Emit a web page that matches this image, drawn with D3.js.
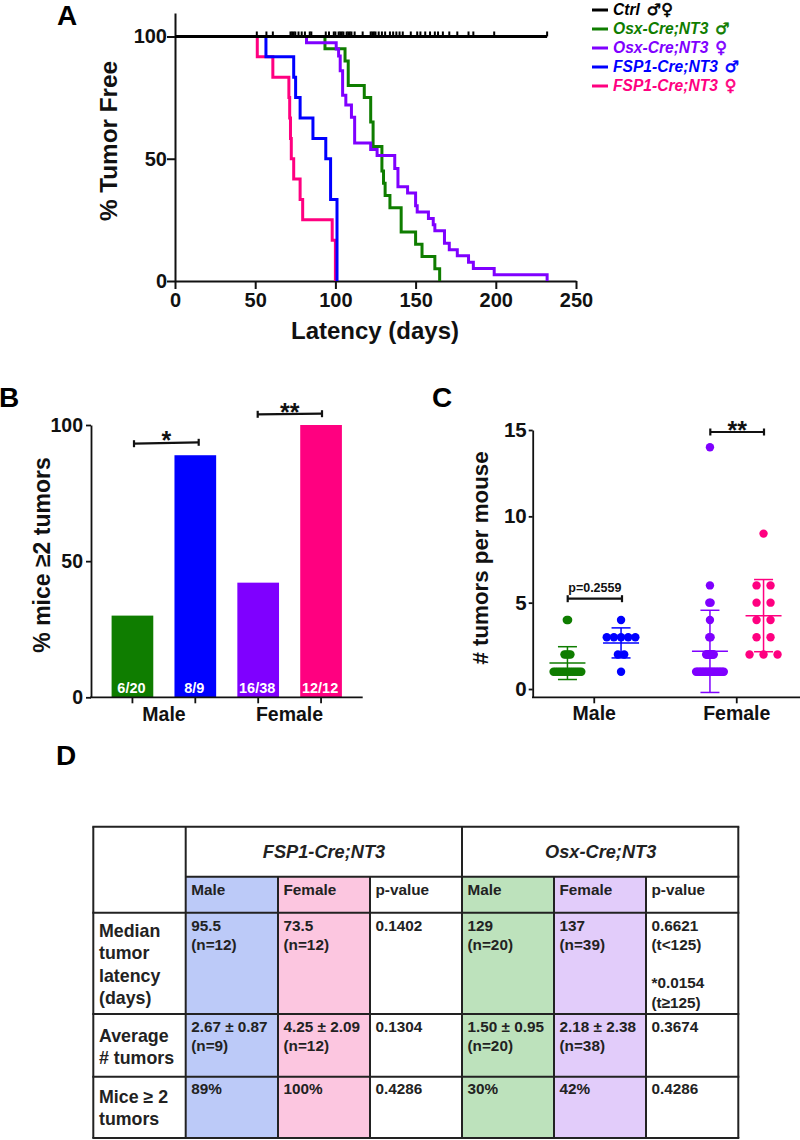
<!DOCTYPE html>
<html>
<head>
<meta charset="utf-8">
<script src="https://cdn.jsdelivr.net/npm/d3@7"></script>
<style>
  body { margin: 0; background: #fff; }
  svg { display: block; }
  text { font-family: "Liberation Sans", Arial, sans-serif; font-weight: bold; fill: #111; }
</style>
</head>
<body>
<div id="chart"></div>
<script>
// panel A - latency curves, [day, % tumor free]
const osxMale = [[0,100],[93.5,95],[106,90],[108,80],[118,75],[122,65],[123.5,55],[129,45],[130,40],[131,35],[134,30],[141,20],[150,15],[154,10],[162,5],[165,0]];
const osxFemale = [[0,100],[82,97.4],[100.5,94.9],[102,92],[103,86],[104.5,76],[106.5,72],[110,67],[112,56.4],[122,53.8],[126,51.3],[137,46],[139,38.5],[145,36],[150,30.8],[151,28.2],[158,25.6],[161,23],[162,20.5],[168,15.4],[171,12.8],[176,10.3],[183,7.7],[186,5.1],[199,2.6],[232,0]];
const fspMale = [[0,100],[56.7,91.7],[74,83.3],[75.2,75],[78,66.7],[86,58.3],[94,50],[97,33.3],[101,0]];
const fspFemale = [[0,100],[51.3,91.7],[61,83.3],[71,75],[71.5,66.7],[72,58.3],[72.5,50],[74,41.7],[78,33.3],[79.6,25],[98,16.7],[100,0]];
const ctrlLine = [[0,100],[232,100]];
const ctrlCensored = [51,57,61,72,73,74,75,77,79,81,84,85,94,96,99,100,102,103,104,105,107,108,109,110,112,117,122,123,124,125,127,129,131,134,136,138,140,142,147,151,153,156,159,162,164,167,171,176,183,186,199,232];

const legendNames = ["Ctrl", "Osx-Cre;NT3", "Osx-Cre;NT3", "FSP1-Cre;NT3", "FSP1-Cre;NT3"];
const legendSex = ["♂♀", "♂", "♀", "♂", "♀"];

// panel B
const barKeys = ["maleOsx", "maleFsp", "femaleOsx", "femaleFsp"];
const barValues = [30, 88.9, 42.1, 100];
const barLabels = ["6/20", "8/9", "16/38", "12/12"];
const sexLabels = ["Male", "Female"];

// panel C - one entry per mouse
const dotsOsxMale = [1,1,1,1,1,1,1,1,1,1,1,1,1,1,2,2,2,2,4,4];
const dotsFspMale = [1,2,2,3,3,3,3,3,4];
const dotsOsxFemale = [1,1,1,1,1,1,1,1,1,1,1,1,1,1,1,1,1,1,1,2,2,2,2,2,2,2,2,2,2,2,2,3,3,4,5,5,6,14];
const dotsFspFemale = [2,2,2,3,3,4,4,5,5,6,6,9];
const dotMeans = [1.5, 2.67, 2.18, 4.25];
const dotSds = [0.95, 0.87, 2.38, 2.09];

// panel D
const fspHead = "FSP1-Cre;NT3";
const osxHead = "Osx-Cre;NT3";
const subHead = ["Male", "Female", "p-value", "Male", "Female", "p-value"];
const rowNames = [["Median","tumor","latency","(days)"], ["Average","# tumors"], ["Mice ≥ 2","tumors"]];
const rowLatency = [["95.5","(n=12)"],["73.5","(n=12)"],["0.1402"],["129","(n=20)"],["137","(n=39)"],["0.6621","(t<125)","","*0.0154","(t≥125)"]];
const rowAverage = [["2.67 ± 0.87","(n=9)"],["4.25 ± 2.09","(n=12)"],["0.1304"],["1.50 ± 0.95","(n=20)"],["2.18 ± 2.38","(n=38)"],["0.3674"]];
const rowMice = [["89%"],["100%"],["0.4286"],["30%"],["42%"],["0.4286"]];

const green = "#0f7d00", purple = "#7f00ff", blue = "#0000ff", pink = "#ff0080";
const ink = "#111";

const svg = d3.select("#chart").append("svg").attr("width", 800).attr("height", 1140);

function panelLetter(t, x, y) {
  svg.append("text").attr("x", x).attr("y", y).style("font-size", "28px").style("fill", "#000").text(t);
}
panelLetter("A", 57, 25);
panelLetter("B", -1, 407);
panelLetter("C", 432, 407);
panelLetter("D", 56, 765);

function styleAxis(g, size, sw) {
  g.selectAll("path,line").attr("stroke", ink).attr("stroke-width", sw);
  g.selectAll("text").style("font-size", size + "px").style("font-family", '"Liberation Sans", Arial, sans-serif').style("font-weight", "bold").attr("fill", ink);
}

function yTitle(t, x, y, size) {
  svg.append("text").attr("transform", "translate(" + x + "," + y + ") rotate(-90)")
    .attr("text-anchor", "middle").style("font-size", size + "px").text(t);
}

// ---------- A
const xA = d3.scaleLinear().domain([0, 250]).range([175, 576]);
const yA = d3.scaleLinear().domain([0, 109.6]).range([281, 13]);

svg.append("g").attr("transform", "translate(0,281)")
  .call(d3.axisBottom(xA).tickValues([0,50,100,150,200,250]).tickSize(8).tickPadding(4).tickSizeOuter(0))
  .call(styleAxis, 20, 2);
svg.append("g").attr("transform", "translate(175,0)")
  .call(d3.axisLeft(yA).tickValues([0,50,100]).tickSize(8).tickPadding(0).tickSizeOuter(0))
  .call(styleAxis, 20, 2);

const stepLine = d3.line().x(d => xA(d[0])).y(d => yA(d[1])).curve(d3.curveStepAfter);
[[osxMale, green], [osxFemale, purple], [fspFemale, pink], [fspMale, blue], [ctrlLine, "#000"]].forEach(function(s) {
  svg.append("path").datum(s[0]).attr("d", stepLine).attr("fill", "none")
    .attr("stroke", s[1]).attr("stroke-width", 3);
});
svg.selectAll(".cens").data(ctrlCensored).enter().append("line").attr("class", "cens")
  .attr("x1", d => xA(d)).attr("x2", d => xA(d))
  .attr("y1", yA(100)).attr("y2", yA(100) - 5)
  .attr("stroke", "#000").attr("stroke-width", 2);

yTitle("% Tumor Free", 117, 141, 24.3);
svg.append("text").attr("x", 375).attr("y", 339).attr("text-anchor", "middle")
  .style("font-size", "24px").text("Latency (days)");

// legend
const legendColors = ["#000", green, purple, blue, pink];
legendNames.forEach(function(name, i) {
  const y = 10 + i * 19;
  svg.append("line").attr("x1", 592).attr("x2", 608).attr("y1", y).attr("y2", y)
    .attr("stroke", legendColors[i]).attr("stroke-width", 3);
  const t = svg.append("text").attr("x", 613).attr("y", y + 5).style("fill", legendColors[i]).style("font-size", "15.6px");
  t.append("tspan").style("font-style", "italic").text(name);
  t.append("tspan").attr("dx", 7).style("font-family", '"DejaVu Sans"').style("font-size", "16px")
    .style("stroke", legendColors[i]).style("stroke-width", 0.6).text(legendSex[i]);
});

// ---------- B
const xB = d3.scaleBand().domain(barKeys).range([101, 352.5]).paddingInner(0.337).paddingOuter(0.1685);
const yB = d3.scaleLinear().domain([0, 100]).range([697.3, 425]);
const barColor = d3.scaleOrdinal().domain(barKeys).range([green, blue, purple, pink]);

svg.selectAll(".bar").data(barKeys).enter().append("rect").attr("class", "bar")
  .attr("x", d => xB(d)).attr("width", xB.bandwidth())
  .attr("y", (d, i) => yB(barValues[i]))
  .attr("height", (d, i) => yB(0) - yB(barValues[i]))
  .attr("fill", d => barColor(d));
svg.selectAll(".barlab").data(barKeys).enter().append("text").attr("class", "barlab")
  .attr("x", d => xB(d) + xB.bandwidth() / 2 - 1).attr("y", 692.7)
  .attr("text-anchor", "middle").style("fill", "#fff").style("font-size", "14.5px")
  .text((d, i) => barLabels[i]);

const axB = svg.append("g").attr("transform", "translate(0,697.3)")
  .call(d3.axisBottom(xB).tickFormat("").tickSize(6).tickSizeOuter(0));
axB.select(".domain").remove();
axB.call(styleAxis, 19, 1.8);
svg.append("line").attr("x1", 90).attr("x2", 362.7).attr("y1", 697.3).attr("y2", 697.3).attr("stroke", ink).attr("stroke-width", 1.8);
svg.append("g").attr("transform", "translate(91,0)")
  .call(d3.axisLeft(yB).tickValues([0,50,100]).tickSize(5).tickPadding(3).tickSizeOuter(0))
  .call(styleAxis, 19.5, 1.8);

sexLabels.forEach(function(s, i) {
  svg.append("text").attr("x", [164, 289.5][i]).attr("y", 720.7).attr("text-anchor", "middle")
    .style("font-size", "19.5px").text(s);
});
yTitle("% mice ≥2 tumors", 49.5, 555, 23);

function bracket(x1, x2, y1, y2, label, ly, size) {
  const g = svg.append("g").attr("stroke", ink).attr("stroke-width", 2.2);
  g.append("line").attr("x1", x1).attr("x2", x2).attr("y1", y1).attr("y2", y2);
  g.append("line").attr("x1", x1).attr("x2", x1).attr("y1", y1 - 3.5).attr("y2", y1 + 3.5);
  g.append("line").attr("x1", x2).attr("x2", x2).attr("y1", y2 - 3.5).attr("y2", y2 + 3.5);
  svg.append("text").attr("x", (x1 + x2) / 2).attr("y", ly).attr("text-anchor", "middle")
    .style("font-size", size + "px").text(label);
}
bracket(134, 198.7, 443.7, 442.3, "*", 449, 25);
bracket(257.7, 322, 414.3, 413.7, "**", 421, 25);

// ---------- C
const xC = d3.scaleBand().domain(sexLabels).range([523, 808]);
const subC = d3.scalePoint().domain([0, 1]).range([-26.8, 26.8]);
const yC = d3.scaleLinear().domain([-0.48, 15]).range([697.3, 430]);

const axC = svg.append("g").attr("transform", "translate(0,697.3)")
  .call(d3.axisBottom(xC).tickSize(6).tickPadding(3).tickSizeOuter(0));
axC.select(".domain").remove();
axC.call(styleAxis, 19.5, 1.8);
svg.append("line").attr("x1", 532).attr("x2", 800).attr("y1", 697.3).attr("y2", 697.3).attr("stroke", ink).attr("stroke-width", 1.8);
svg.append("g").attr("transform", "translate(532.7,0)")
  .call(d3.axisLeft(yC).tickValues([0,5,10,15]).tickSize(4).tickPadding(2).tickSizeOuter(0))
  .call(styleAxis, 20.5, 1.8);
yTitle("# tumors per mouse", 488, 558, 22.3);

// horizontal spread of each row of dots, by value
const rowSpread = [
  {1: 27.7, 2: 6, 4: 1.3},
  {2: 6.3, 3: 28.6},
  {1: 27.7, 2: 7.6, 3: 1.3, 5: 1.3},
  {2: 28, 3: 14, 4: 14, 5: 14, 6: 14}
];
const dotGroups = [
  {sex: "Male", side: 0, values: dotsOsxMale, color: green},
  {sex: "Male", side: 1, values: dotsFspMale, color: blue},
  {sex: "Female", side: 0, values: dotsOsxFemale, color: purple},
  {sex: "Female", side: 1, values: dotsFspFemale, color: pink}
];
dotGroups.forEach(function(grp, gi) {
  const cx = xC(grp.sex) + xC.bandwidth() / 2 + subC(grp.side);
  const rows = d3.group(grp.values, d => d);
  rows.forEach(function(vals, v) {
    const n = vals.length;
    const span = rowSpread[gi][v] || 0;
    svg.append("g").selectAll("circle").data(vals).enter().append("circle")
      .attr("cx", (d, i) => n > 1 ? cx + span * (i / (n - 1) - 0.5) : cx)
      .attr("cy", yC(v)).attr("r", 4.2).attr("fill", grp.color);
  });
  const m = dotMeans[gi], sd = dotSds[gi];
  const g = svg.append("g").attr("stroke", grp.color).attr("stroke-width", 1.5);
  g.append("line").attr("x1", cx).attr("x2", cx).attr("y1", yC(m - sd)).attr("y2", yC(m + sd));
  g.append("line").attr("x1", cx - 18).attr("x2", cx + 18).attr("y1", yC(m)).attr("y2", yC(m));
  [m - sd, m + sd].forEach(function(c) {
    g.append("line").attr("x1", cx - 9.5).attr("x2", cx + 9.5).attr("y1", yC(c)).attr("y2", yC(c));
  });
});
bracket(567.7, 622, 598.7, 598.7, "p=0.2559", 591.7, 12.5);
bracket(710.3, 764, 432, 432, "**", 439, 25);

// ---------- D
const colEdges = [93.3, 185.7, 278, 370, 462, 554, 646, 738.3];
const rowEdges = [826.7, 876.7, 912.7, 1014, 1076.7, 1138];
const tableInk = "#222";
const cellFill = ["#bccaf8", "#fcc6e0", "#fff", "#bde2bc", "#e2ccfa", "#fff"];
const tableRows = [rowLatency, rowAverage, rowMice];

cellFill.forEach(function(c, i) {
  svg.append("rect").attr("x", colEdges[i + 1]).attr("y", rowEdges[1])
    .attr("width", colEdges[i + 2] - colEdges[i + 1]).attr("height", rowEdges[5] - rowEdges[1]).attr("fill", c);
});
// table lines
svg.selectAll(".vl").data(colEdges).enter().append("line").attr("class", "vl")
  .attr("x1", d => d).attr("x2", d => d)
  .attr("y1", (d, i) => (i === 2 || i === 3 || i === 5 || i === 6) ? rowEdges[1] : rowEdges[0])
  .attr("y2", rowEdges[5]).attr("stroke", tableInk).attr("stroke-width", 2);
svg.selectAll(".hl").data(rowEdges).enter().append("line").attr("class", "hl")
  .attr("x1", (d, i) => i === 1 ? colEdges[1] : colEdges[0] - 1).attr("x2", colEdges[7] + 1)
  .attr("y1", d => d).attr("y2", d => d).attr("stroke", tableInk).attr("stroke-width", 2);

[[fspHead, 324], [osxHead, 600.7]].forEach(function(h) {
  svg.append("text").attr("x", h[1]).attr("y", 858).attr("text-anchor", "middle")
    .style("font-style", "italic").style("font-size", "18.2px").style("fill", tableInk).text(h[0]);
});
subHead.forEach(function(s, i) {
  svg.append("text").attr("x", colEdges[i + 1] + 5.5).attr("y", 895)
    .style("font-size", "15.3px").style("fill", tableInk).text(s);
});

const rowBaseline = [930.7, 1032, 1094];
const nameBaseline = [937, 1041.7, 1103];
rowNames.forEach(function(lines, r) {
  lines.forEach(function(t, k) {
    svg.append("text").attr("x", 99).attr("y", nameBaseline[r] + k * 22.4)
      .style("font-size", "17.8px").style("fill", tableInk).text(t);
  });
});
tableRows.forEach(function(row, r) {
  row.forEach(function(cell, c) {
    cell.forEach(function(t, k) {
      svg.append("text").attr("x", colEdges[c + 1] + 5.5).attr("y", rowBaseline[r] + k * 19.2)
        .style("font-size", "15.3px").style("fill", tableInk).text(t);
    });
  });
});
</script>
</body>
</html>
